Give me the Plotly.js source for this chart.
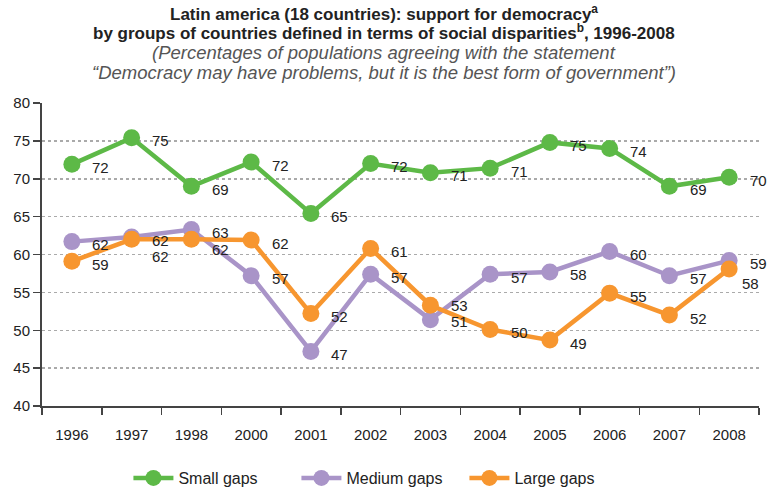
<!DOCTYPE html>
<html>
<head>
<meta charset="utf-8">
<script src="https://cdn.plot.ly/plotly-3.0.1.min.js"></script>
<style>html,body{margin:0;padding:0;background:#fff}#chart{width:768px;height:495px}</style>
</head>
<body>
<div id="chart"></div>
<script>
var years = ["1996","1997","1998","2000","2001","2002","2003","2004","2005","2006","2007","2008"];
var smallGaps  = [71.9, 75.4, 69.0, 72.2, 65.4, 72.0, 70.8, 71.4, 74.8, 74.0, 69.0, 70.2];
var mediumGaps = [61.7, 62.3, 63.3, 57.2, 47.2, 57.4, 51.4, 57.4, 57.7, 60.4, 57.2, 59.2];
var largeGaps  = [59.1, 62.0, 62.0, 61.9, 52.2, 60.8, 53.3, 50.1, 48.7, 54.9, 52.0, 58.1];
var seriesNames = ["Small gaps", "Medium gaps", "Large gaps"];
var titleLines = [
  "<b>Latin america (18 countries): support for democracy<sup>a</sup></b>",
  "<b>by groups of countries defined in terms of social disparities<sup>b</sup>, 1996-2008</b>",
  "<i>(Percentages of populations agreeing with the statement</i>",
  "<i>“Democracy may have problems, but it is the best form of government”)</i>"
];

var colors = ["#5db947", "#a994c8", "#f7962f"];
var FONT = "'Liberation Sans Narrow', 'Liberation Sans', Arial, sans-serif";
var allSeries = [smallGaps, mediumGaps, largeGaps];

var traces = allSeries.map(function (vals, i) {
  return {
    type: "scatter", mode: "lines+markers",
    x: years, y: vals, name: seriesNames[i],
    line: {color: colors[i], width: 4.5},
    marker: {color: colors[i], size: 17},
    cliponaxis: false
  };
});

// label placement nudges (in px) for crowded points: series index -> year -> [xshift, yshift]
var nudges = {
  1: {"2003": [29, -2]},
  2: {"1997": [29, -17], "1998": [29, -10], "2003": [29, 0], "2008": [21, -15]}
};

var annotations = [];
allSeries.forEach(function (vals, i) {
  vals.forEach(function (v, j) {
    var xs = 29, ys = -3;
    if (nudges[i] && nudges[i][years[j]]) { xs = nudges[i][years[j]][0]; ys = nudges[i][years[j]][1]; }
    annotations.push({
      x: j, y: v, xref: "x", yref: "y",
      text: String(Math.round(v)), showarrow: false,
      xshift: xs, yshift: ys,
      font: {family: FONT, size: 15, color: "#222"}
    });
  });
});

var titleShifts = [90, 71, 51, 31];
var titleSizes = [17, 17, 18.5, 18.5];
var titleColors = ["#222", "#222", "#555", "#555"];
titleLines.forEach(function (t, k) {
  annotations.push({
    xref: "paper", yref: "paper", x: (384 - 42) / 717, y: 1, yshift: titleShifts[k],
    yanchor: "middle", xanchor: "center", showarrow: false, text: t,
    font: {family: FONT, size: titleSizes[k], color: titleColors[k]}
  });
});

var layout = {
  width: 768, height: 495,
  margin: {l: 42, r: 9, t: 103, b: 89, autoexpand: false},
  paper_bgcolor: "#fff", plot_bgcolor: "#fff",
  font: {family: FONT, size: 15, color: "#222"},
  showlegend: true,
  legend: {orientation: "h", x: 0.472, xanchor: "center", yref: "container", y: 17 / 495, yanchor: "middle",
           font: {family: FONT, size: 16, color: "#222"}, entrywidth: 113, itemwidth: 40},
  xaxis: {type: "category", range: [-0.5, 11.5], tickson: "boundaries", ticks: "outside", ticklen: 7, tickwidth: 1.5,
          tickcolor: "#444", showline: true, linecolor: "#444", linewidth: 2, automargin: false,
          showgrid: false, zeroline: false, ticklabelstandoff: 14, tickangle: 0,
          tickfont: {family: FONT, size: 15, color: "#222"}, fixedrange: true},
  yaxis: {range: [40, 80], dtick: 5, tick0: 40, ticks: "outside", ticklen: 7, tickwidth: 1.5,
          tickcolor: "#444", showline: true, linecolor: "#444", linewidth: 2, automargin: false,
          showgrid: true, gridcolor: "#aaa", gridwidth: 1.5, griddash: "dot",
          zeroline: false, tickfont: {family: FONT, size: 15, color: "#222"}, fixedrange: true},
  annotations: annotations
};

Plotly.newPlot("chart", traces, layout, {displayModeBar: false, staticPlot: true});
</script>
</body>
</html>
